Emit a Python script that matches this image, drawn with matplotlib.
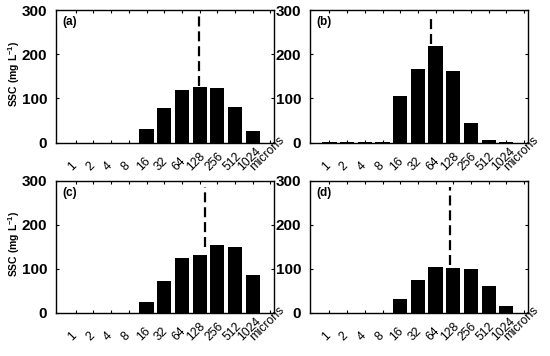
#!/usr/bin/env python3
"""Grain-size distribution of SSC, four panels (a)-(d)."""
import matplotlib
matplotlib.use("Agg")
import matplotlib.pyplot as plt
from matplotlib import transforms

plt.rcParams["font.family"] = ["Liberation Sans", "DejaVu Sans"]
plt.rcParams["mathtext.fontset"] = "custom"
plt.rcParams["mathtext.rm"] = "Liberation Sans:bold"
plt.rcParams["mathtext.bf"] = "Liberation Sans:bold"

SIZE_CLASSES = ["1", "2", "4", "8", "16", "32", "64", "128", "256", "512", "1024"]
X_LABELS = SIZE_CLASSES + ["microns"]
PANEL_LABELS = ["(a)", "(b)", "(c)", "(d)"]

# SSC (mg/L) per size class
SSC_A = [0, 0, 0, 0, 31, 78, 119, 125, 123, 80, 26]
SSC_B = [1, 1, 2, 2, 106, 166, 218, 163, 44, 5, 2]
SSC_C = [0, 0, 0, 0, 24, 73, 125, 132, 155, 149, 86]
SSC_D = [0, 0, 0, 0, 31, 75, 105, 103, 100, 62, 16]

# dashed marker (median size) position on the class axis and its extent
D50_POS = [7.95, 6.72, 8.32, 7.79]
D50_BOTTOM = [129, 224, 149, 109]
D50_TOP = 287

W, H = 550, 356
fig = plt.figure(figsize=(W / 100, H / 100), dpi=100)

# axes boxes in pixels: left, top, right, bottom
boxes = [(55.7, 10, 274, 142.5), (309.5, 10, 527.5, 142.5),
         (55.7, 181, 274, 313), (309.5, 181, 527.5, 313)]
series = [SSC_A, SSC_B, SSC_C, SSC_D]

for k, (box, values) in enumerate(zip(boxes, series)):
    l, t, r, b = box
    ax = fig.add_axes([l / W, 1 - b / H, (r - l) / W, (b - t) / H])
    pos = list(range(1, len(values) + 1))
    ax.bar(pos, values, width=0.8, color="black", edgecolor="none")
    ax.plot([D50_POS[k], D50_POS[k]], [D50_BOTTOM[k], D50_TOP], color="black",
            linewidth=1.6, linestyle=(0, (4.5, 2.2)))
    ax.set_xlim(-0.13, 12.2)
    ax.set_ylim(0, 300)
    ax.set_yticks([0, 100, 200, 300])
    ax.set_xticks(range(1, len(X_LABELS) + 1))
    ax.set_xticklabels([])
    ax.tick_params(direction="in", top=True, right=True, length=2.5, width=0.8)
    ax.tick_params(axis="y", labelsize=11, pad=6)
    for lab in ax.get_yticklabels():
        lab.set_fontweight("bold")
    for sp in ax.spines.values():
        sp.set_linewidth(1.0)

    off = transforms.ScaledTranslation(-0.03, -0.305, fig.dpi_scale_trans)
    for i, txt in enumerate(X_LABELS, start=1):
        ax.text(i, 0, txt, transform=ax.get_xaxis_transform() + off,
                rotation=45, ha="center", va="bottom", fontsize=8.8)

    ax.text(0.03, 0.91, PANEL_LABELS[k], transform=ax.transAxes,
            fontsize=8.5, fontweight="bold", ha="left", va="center")
    if k % 2 == 0:
        ax.text(-0.191, 0.52, r"SSC (mg L$^{\mathbf{-1}}$)", transform=ax.transAxes,
                rotation=90, ha="center", va="center", fontsize=7.5,
                fontweight="bold")

fig.savefig("out.png", dpi=100)
